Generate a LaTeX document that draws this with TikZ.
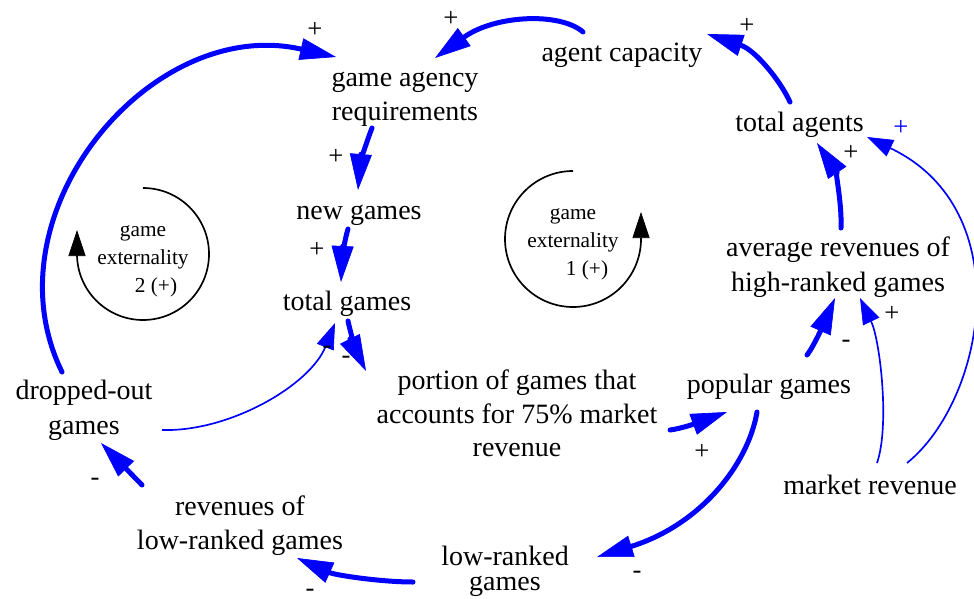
\documentclass[tikz,border=0pt]{standalone}
\usepackage{fontspec}
\setmainfont{Liberation Serif}
\usetikzlibrary{arrows.meta,calc}
\definecolor{linkblue}{RGB}{0,0,255}
% struts that sit the lines slightly low in their box
\newcommand{\tstrut}{\rule{0pt}{\dimexpr0.7\baselineskip+1.9pt\relax}}
\newcommand{\bstrut}{\rule[\dimexpr-0.3\baselineskip+1.9pt\relax]{0pt}{\dimexpr0.3\baselineskip-1.9pt\relax}}
\begin{document}
\begin{tikzpicture}[x=0.75pt,y=-0.75pt,
  var/.style={inner sep=0pt,align=center,font=\fontsize{21}{25.5}\selectfont},
  sgn/.style={inner sep=0pt,font=\fontsize{20}{24}\selectfont},
  looplabel/.style={inner sep=0pt,align=center,font=\fontsize{16}{21}\selectfont},
  strong/.style={draw=linkblue,line width=3.75pt,line cap=round,
    -{Triangle[length=27pt,width=16.5pt,line width=0.5pt]}},
  weak/.style={draw=linkblue,line width=1.25pt,
    -{Triangle[length=19.5pt,width=13.5pt,line width=0.5pt]}},
  loopline/.style={draw=black,line width=1.25pt,
    -{Triangle[length=19.5pt,width=12.75pt,line width=0.5pt]}}
]
\useasboundingbox (0,0) rectangle (974,599);

% variables
\node[var] (gar) at (405,94) {\tstrut game agency\\requirements\bstrut};
\node[var] (ac) at (622,52) {\tstrut agent capacity\bstrut};
\node[var] (ta) at (799.5,122) {\tstrut total agents\bstrut};
\node[var] (ng) at (359,210) {\tstrut new games\bstrut};
\node[var] (tg) at (347,301) {\tstrut total games\bstrut};
\node[var,font=\fontsize{21}{26.25}\selectfont] (ar) at (838,264.5)
  {\tstrut average revenues of\\high-ranked games\bstrut};
\node[var,font=\fontsize{21}{25.1}\selectfont] (po) at (517,414)
  {\tstrut portion of games that\\accounts for 75\% market\\revenue\bstrut};
\node[var] (pg) at (769,384) {\tstrut popular games\bstrut};
\node[var,font=\fontsize{21}{26.6}\selectfont] (dg) at (84,407.5)
  {\tstrut dropped-out\\games\bstrut};
\node[var] (mr) at (870,485) {\tstrut market revenue\bstrut};
\node[var,font=\fontsize{21}{26}\selectfont] (rl) at (240,523)
  {\tstrut revenues of\\low-ranked games\bstrut};
\node[var,font=\fontsize{21}{18.75}\selectfont] (lr) at (505,571)
  {\tstrut low-ranked\\games\bstrut};

% loop labels
\node[looplabel] (lpB) at (143,256) {\tstrut game\\externality\\\hspace*{19.5pt}2 (+)\bstrut};
\node[looplabel] (lpA) at (573,239.5) {\tstrut game\\externality\\\hspace*{21pt}1 (+)\bstrut};

% loop arrows
\draw[loopline] ($(lpB.center)+(0,-68)$) arc[start angle=90,end angle=-180,radius=49.5pt] -- ++(0,-24);
\draw[loopline] ($(lpA.center)+(0,-68.5)$) arc[start angle=90,end angle=360,radius=51pt] -- ++(0,-27);

% causal links
\draw[strong] ($(ac.center)+(-39,-20)$) .. controls +(-23,-20) and +(60,-43) .. ($(gar.center)+(30,-36)$);
\draw[strong] ($(gar.center)+(-33,34)$) .. controls +(-6,15) and +(2,-25) .. ($(ng.center)+(-1,-20)$);
\draw[strong] ($(ng.center)+(-11,19)$) .. controls +(-3,9) and +(1,-22) .. ($(tg.center)+(-6,-19)$);
\draw[strong] ($(tg.center)+(1,20)$) .. controls +(2,10) and +(-9,-18) .. ($(po.center)+(-151,-43)$);
\draw[weak] ($(dg.center)+(78,22.5)$) .. controls +(68,2) and +(-25,62) .. ($(tg.center)+(-12,22)$);
\draw[strong] ($(po.center)+(153,16)$) .. controls +(15,-2) and +(-22,8) .. ($(pg.center)+(-42,28)$);
\draw[strong] ($(pg.center)+(38,-29)$) .. controls +(8,-10) and +(-7,16) .. ($(ar.center)+(-3,33.5)$);
\draw[weak] ($(mr.center)+(7,-22)$) .. controls +(13,-38) and +(20,42) .. ($(ar.center)+(22,33.5)$);
\draw[weak] ($(mr.center)+(37,-22)$) .. controls +(78,-63) and +(153,73) .. ($(ta.center)+(67.5,15)$);
\draw[strong] ($(ar.center)+(3,-36.5)$) .. controls +(1,-28) and +(17,25) .. ($(ta.center)+(17.5,21)$);
\draw[strong] ($(ta.center)+(-9.5,-20)$) .. controls +(-10,-22) and +(48,16) .. ($(ac.center)+(85,-18)$);
\draw[strong] ($(dg.center)+(-22,-35.5)$) .. controls +(-77,-157) and +(-186,-42) .. ($(gar.center)+(-69,-37)$);
\draw[strong] ($(pg.center)+(-12,28)$) .. controls +(-9,53) and +(103,-32) .. ($(lr.center)+(92,-14)$);
\draw[strong] ($(lr.center)+(-92,11)$) .. controls +(-33,0) and +(38,17) .. ($(rl.center)+(57,35)$);
\draw[strong] ($(rl.center)+(-98,-38)$) -- ($(dg.center)+(17,35.5)$);

% link polarities
\node[sgn] (s1) at (315,30) {+};
\node[sgn] (s2) at (451,19) {+};
\node[sgn] (s3) at (747,26) {+};
\node[sgn] (s4) at (336,157) {+};
\node[sgn] (s5) at (317,250) {+};
\node[sgn] (s6) at (851,153) {+};
\node[sgn,text=linkblue] (s7) at (901,128) {+};
\node[sgn] (s8) at (327,350) {-};
\node[sgn] (s9) at (346,360) {-};
\node[sgn] (s10) at (702,452) {+};
\node[sgn] (s11) at (846,344) {-};
\node[sgn] (s12) at (892,314) {+};
\node[sgn] (s13) at (637,575) {-};
\node[sgn] (s14) at (310,593) {-};
\node[sgn] (s15) at (95,482) {-};
\end{tikzpicture}
\end{document}
